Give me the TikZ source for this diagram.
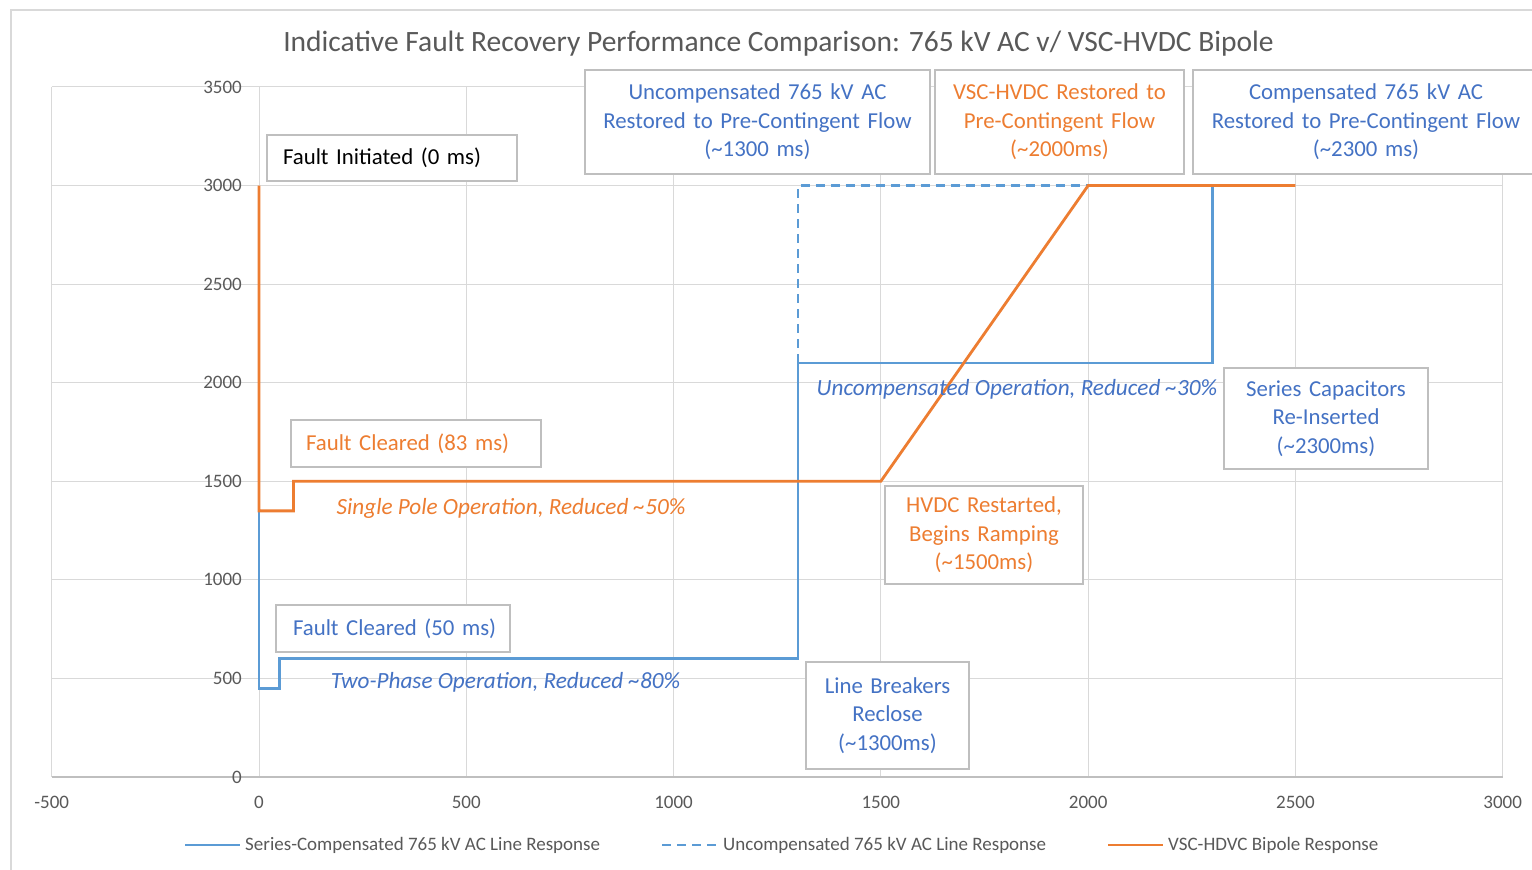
\documentclass[tikz,border=0pt]{standalone}
\usepackage{fontspec}
\setmainfont{Carlito}
\definecolor{serblue}{HTML}{5B9BD5}
\definecolor{txtblue}{HTML}{4472C4}
\definecolor{vscorange}{HTML}{ED7D31}
\definecolor{txtgray}{HTML}{595959}
\definecolor{gridgray}{HTML}{D9D9D9}
\definecolor{boxgray}{HTML}{BFBFBF}
\tikzset{
  gridline/.style={draw=gridgray, line width=1pt},
  axisline/.style={draw=boxgray, line width=1.5pt},
  frameline/.style={draw=gridgray, line width=1.2pt},
  serline/.style={line width=2.8pt, line join=miter},
  annbox/.style={draw=boxgray, line width=1.4pt, fill=white, inner sep=0pt, align=center, font=\fontsize{22.8}{28.5}\selectfont},
  ticklabel/.style={inner sep=0pt, text=txtgray, font=\fontsize{19}{21}\selectfont},
  legendtext/.style={inner sep=0pt, anchor=west, text=txtgray, font=\fontsize{19}{21}\selectfont},
  itlabel/.style={inner sep=0pt, font=\fontsize{23.2}{26}\selectfont\itshape},
}
\begin{document}
\begin{tikzpicture}[x=1pt,y=1pt]
\useasboundingbox (0,0) rectangle (1532,870);
\fill[white] (0,0) rectangle (1532,870);
\coordinate (f1) at (11,0);
\coordinate (f2) at (11,860);
\coordinate (f3) at (1532,860);
\draw[frameline] (f1) -- (f2) -- (f3);
\node[inner sep=0pt, text=txtgray, font=\fontsize{29.5}{34}\selectfont] (title) at (778.5,826) {Indicative Fault Recovery Performance Comparison: 765 kV AC v/ VSC-HVDC Bipole};
\begin{scope}[shift={(259,93)}, x=0.41457pt, y=0.19714pt]
  \foreach \v in {500,1000,...,3500} \draw[gridline] (-500,\v) -- (3000,\v);
  \foreach \v in {-500,0,...,3000} \draw[gridline] (\v,0) -- (\v,3500);
  \draw[axisline] (-500,0) -- (3000,0);
  \foreach \v in {0,500,...,3500} \node[ticklabel, anchor=east] (yl\v) at (-41,\v) {\v};
  \foreach \v in {-500,0,...,3000} \node[ticklabel] (xl\v) at (\v,-127) {\v};
  \draw[serline, serblue] (0,3000) -- (0,450) -- (50,450) -- (50,600) -- (1300,600) -- (1300,2100) -- (2300,2100) -- (2300,3000) -- (2500,3000);
  \draw[serline, serblue, dash pattern=on 9pt off 6pt] (1300,2100) -- (1300,3000) -- (2000,3000);
  \draw[serline, vscorange] (0,3000) -- (0,1350) -- (83,1350) -- (83,1500) -- (1500,1500) -- (2000,3000) -- (2500,3000);
\end{scope}
% annotation boxes
\node[annbox, align=left, inner xsep=16pt, text width=218pt, minimum height=46pt] (fi) at (392,712) {\mbox{Fault Initiated (0 ms)}};
\node[annbox, text=txtblue, text width=345pt, minimum height=104pt] (ucr) at (757.5,748) {Uncompensated 765 kV AC\\Restored to Pre-Contingent Flow\\(\textasciitilde1300 ms)};
\node[annbox, text=vscorange, text width=249pt, minimum height=104pt] (vscr) at (1059.5,748) {VSC-HVDC Restored to\\Pre-Contingent Flow\\(\textasciitilde2000ms)};
\node[annbox, text=txtblue, text width=346pt, minimum height=104pt] (cr) at (1366,748) {Compensated 765 kV AC\\Restored to Pre-Contingent Flow\\(\textasciitilde2300 ms)};
\node[annbox, text=vscorange, align=left, inner xsep=15pt, text width=220pt, minimum height=47pt] (fc83) at (416,426.5) {\mbox{Fault Cleared (83 ms)}};
\node[annbox, text=txtblue, align=left, inner xsep=17pt, text width=200pt, minimum height=47pt] (fc50) at (393,241.5) {\mbox{Fault Cleared (50 ms)}};
\node[annbox, text=txtblue, text width=204pt, minimum height=101pt] (sc) at (1326,451.5) {Series Capacitors\\Re-Inserted\\(\textasciitilde2300ms)};
\node[annbox, text=vscorange, text width=198pt, minimum height=98pt] (hr) at (984,335) {HVDC Restarted,\\Begins Ramping\\(\textasciitilde1500ms)};
\node[annbox, text=txtblue, text width=163pt, minimum height=107pt] (lb) at (887.5,154.5) {Line Breakers\\Reclose\\(\textasciitilde1300ms)};
% italic labels
\node[itlabel, text=vscorange] (spo) at (511,362) {Single Pole Operation, Reduced \textasciitilde50\%};
\node[itlabel, text=txtblue] (tpo) at (505.5,188) {Two-Phase Operation, Reduced \textasciitilde80\%};
\node[itlabel, text=txtblue] (uco) at (1017,481) {Uncompensated Operation, Reduced \textasciitilde30\%};
% legend
\coordinate (l1a) at (185,25); \coordinate (l1b) at (240,25);
\coordinate (l2a) at (662,25); \coordinate (l2b) at (716,25);
\coordinate (l3a) at (1108,25); \coordinate (l3b) at (1163,25);
\draw[serline, serblue] (l1a) -- (l1b);
\node[legendtext] (lt1) at (245,25) {Series-Compensated 765 kV AC Line Response};
\draw[serline, serblue, dash pattern=on 9pt off 6pt] (l2a) -- (l2b);
\node[legendtext] (lt2) at (723,25) {Uncompensated 765 kV AC Line Response};
\draw[serline, vscorange] (l3a) -- (l3b);
\node[legendtext] (lt3) at (1168,25) {VSC-HDVC Bipole Response};
\end{tikzpicture}
\end{document}
